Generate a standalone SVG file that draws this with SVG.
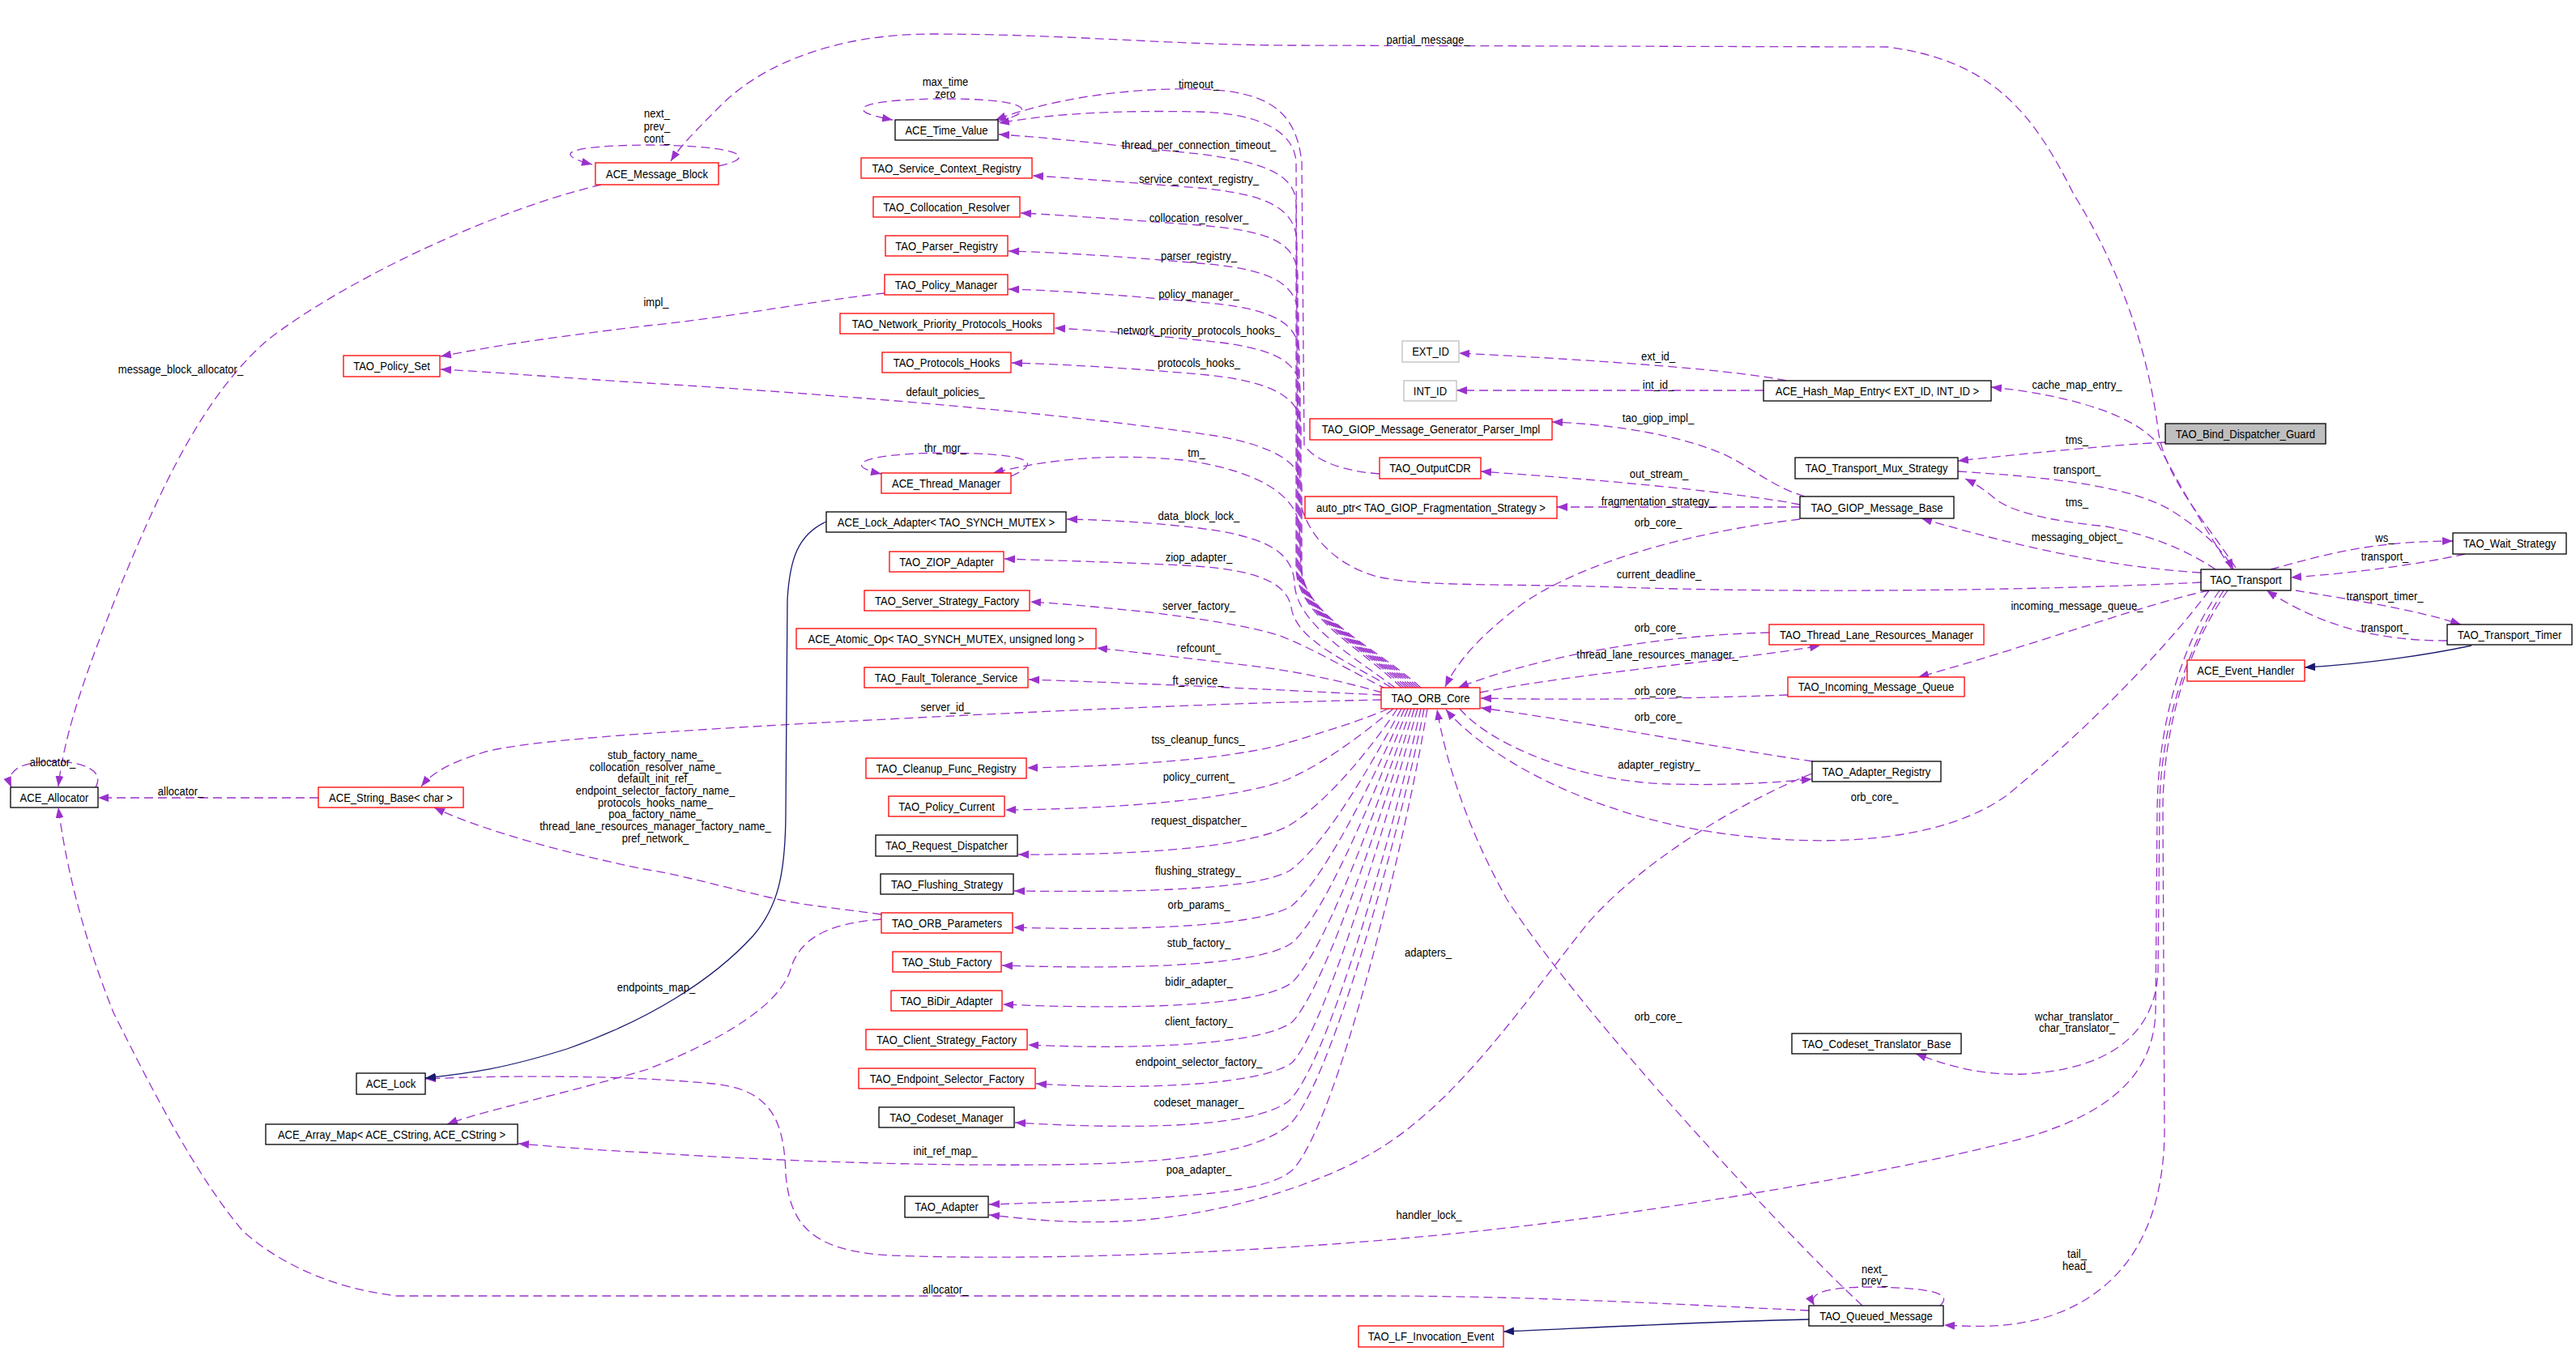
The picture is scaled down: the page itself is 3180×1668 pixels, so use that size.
<svg xmlns="http://www.w3.org/2000/svg" width="3180" height="1668" viewBox="0 0 3180 1668">
<defs>
<style>
.n rect{fill:#fff;stroke-width:1.3}
.r rect{stroke:#ff0000}
.b rect{stroke:#000}
.g rect{stroke:#bfbfbf}
.f rect{fill:#bfbfbf;stroke:#000}
text{font-family:"Liberation Sans",Arial,sans-serif;font-size:15px;fill:#000;text-anchor:middle;transform-box:fill-box;transform-origin:center;transform:scaleX(0.87)}
.u{fill:none;stroke:#9a32cd;stroke-width:1.3;stroke-dasharray:11,6;marker-end:url(#ap)}
.i{fill:none;stroke:#191970;stroke-width:1.3;marker-end:url(#an)}
</style>
<marker id="ap" markerWidth="13" markerHeight="10" refX="13" refY="5" orient="auto" markerUnits="userSpaceOnUse"><path d="M0,0 L13,5 L0,10 z" fill="#9a32cd"/></marker>
<marker id="an" markerWidth="13" markerHeight="10" refX="13" refY="5" orient="auto" markerUnits="userSpaceOnUse"><path d="M0,0 L13,5 L0,10 z" fill="#191970"/></marker>
</defs>
<rect width="3180" height="1668" fill="#fff"/>
<g id="connectors">
<g><path class="u" d="M887 205 C935 195 920 180 800 179 C700 180 680 190 731 203"/><text x="811" y="145">next_</text><text x="811" y="161">prev_</text><text x="811" y="176">cont_</text></g>
<g><path class="u" d="M2760 701 C2720 640 2672 590 2664 530 C2650 420 2610 320 2560 240 C2510 140 2460 75 2330 58 L1600 56 C1450 56 1320 42 1150 42 C1030 42 940 80 890 130 C860 160 840 180 828 199"/><text x="1763" y="54">partial_message_</text></g>
<g><path class="u" d="M1232 150 C1290 135 1260 122 1167 122 C1070 122 1030 135 1102 148"/><text x="1167" y="106">max_time</text><text x="1167" y="121">zero</text></g>
<g><path class="u" d="M1703 585 C1660 582 1625 570 1610 550 L1607 200 C1600 140 1570 112 1480 110 C1380 108 1290 125 1229 148"/><text x="1480" y="109">timeout_</text></g>
<g><path class="u" d="M2717 719 C2500 730 2200 732 2000 725 C1850 720 1760 725 1700 712 C1640 695 1605 650 1602 600 L1600 200 C1598 165 1560 140 1480 138 C1380 136 1300 140 1233 152"/><text x="2048" y="714">current_deadline_</text></g>
<g><path class="u" d="M1730 849 C1680 800 1600 760 1600 700 L1600 250 C1598 215 1560 200 1480 190 C1380 180 1300 170 1233 166"/><text x="1480" y="184">thread_per_connection_timeout_</text></g>
<g><path class="u" d="M1733 849 C1685 800 1601 760 1601 700 L1601 300 C1600 260 1570 240 1480 232 C1400 226 1330 220 1275 217"/><text x="1480" y="226">service_context_registry_</text></g>
<g><path class="u" d="M1736 849 C1688 800 1602 760 1602 700 L1602 340 C1600 300 1570 285 1480 278 C1400 272 1320 266 1260 263"/><text x="1480" y="274">collocation_resolver_</text></g>
<g><path class="u" d="M1739 849 C1690 800 1603 760 1603 700 L1603 390 C1601 350 1570 332 1480 325 C1400 318 1320 312 1245 310"/><text x="1480" y="321">parser_registry_</text></g>
<g><path class="u" d="M1742 849 C1692 800 1604 760 1604 700 L1604 435 C1602 398 1570 380 1480 373 C1400 366 1320 359 1245 357"/><text x="1480" y="368">policy_manager_</text></g>
<g><path class="u" d="M1745 849 C1694 800 1605 760 1605 700 L1605 480 C1603 445 1570 428 1480 420 C1420 414 1360 408 1302 405"/><text x="1480" y="413">network_priority_protocols_hooks_</text></g>
<g><path class="u" d="M1748 849 C1696 800 1606 760 1606 700 L1606 525 C1604 490 1570 470 1480 462 C1400 455 1320 450 1249 448"/><text x="1480" y="453">protocols_hooks_</text></g>
<g><path class="u" d="M1092 362 C1000 372 900 392 800 402 C700 414 620 425 544 440"/><text x="810" y="378">impl_</text></g>
<g><path class="u" d="M742 228 C600 262 420 350 330 420 C250 490 200 600 150 720 C110 820 80 900 72 971"/><text x="223" y="461">message_block_allocator_</text></g>
<g><path class="u" d="M1751 849 C1698 800 1607 760 1607 700 L1607 600 C1605 570 1570 550 1500 538 C1300 508 1000 485 800 473 C700 467 620 460 544 456"/><text x="1167" y="489">default_policies_</text></g>
<g><path class="u" d="M1248 588 C1290 570 1270 560 1167 559 C1060 560 1040 575 1088 585"/><text x="1167" y="558">thr_mgr_</text></g>
<g><path class="u" d="M1754 849 C1700 800 1608 760 1606 700 L1604 650 C1600 610 1550 580 1460 568 C1380 560 1300 565 1226 584"/><text x="1477" y="564">tm_</text></g>
<g><path class="u" d="M1722 849 C1670 810 1600 770 1598 720 C1596 680 1560 662 1480 652 C1420 645 1370 642 1317 641"/><text x="1480" y="642">data_block_lock_</text></g>
<g><path class="u" d="M1718 849 C1660 815 1600 790 1594 750 C1588 715 1540 702 1460 698 C1380 694 1300 692 1240 690"/><text x="1480" y="693">ziop_adapter_</text></g>
<g><path class="u" d="M1712 851 C1670 830 1620 800 1580 785 C1540 772 1480 764 1420 756 C1360 750 1310 745 1272 743"/><text x="1480" y="753">server_factory_</text></g>
<g><path class="u" d="M1706 855 C1670 845 1620 832 1560 824 C1480 814 1400 805 1354 800"/><text x="1480" y="805">refcount_</text></g>
<g><path class="u" d="M1705 858 C1600 853 1450 845 1270 839"/><text x="1479" y="845">ft_service_</text></g>
<g><path class="u" d="M1705 864 C1500 868 1200 882 1000 893 C800 904 650 915 600 928 C560 940 535 952 520 971"/><text x="1167" y="878">server_id_</text></g>
<g><path class="u" d="M1714 875 C1680 890 1630 905 1580 920 C1520 935 1420 945 1268 948"/><text x="1479" y="918">tss_cleanup_funcs_</text></g>
<g><path class="u" d="M1720 875 C1690 900 1640 940 1590 962 C1540 982 1420 998 1241 1000"/><text x="1480" y="964">policy_current_</text></g>
<g><path class="u" d="M1725 875 C1695 920 1640 990 1590 1020 C1540 1045 1420 1056 1257 1055"/><text x="1480" y="1018">request_dispatcher_</text></g>
<g><path class="u" d="M1730 875 C1700 930 1640 1040 1592 1075 C1550 1098 1420 1102 1252 1100"/><text x="1479" y="1080">flushing_strategy_</text></g>
<g><path class="u" d="M1734 875 C1705 940 1640 1080 1595 1118 C1560 1142 1420 1150 1251 1145"/><text x="1480" y="1122">orb_params_</text></g>
<g><path class="u" d="M1738 875 C1708 950 1640 1125 1595 1164 C1560 1190 1420 1198 1237 1192"/><text x="1480" y="1169">stub_factory_</text></g>
<g><path class="u" d="M1742 875 C1712 960 1640 1170 1595 1213 C1560 1240 1420 1248 1238 1240"/><text x="1480" y="1217">bidir_adapter_</text></g>
<g><path class="u" d="M1746 875 C1716 970 1640 1215 1595 1262 C1560 1288 1420 1297 1269 1290"/><text x="1480" y="1266">client_factory_</text></g>
<g><path class="u" d="M1750 875 C1720 980 1640 1265 1595 1312 C1560 1338 1420 1347 1279 1338"/><text x="1480" y="1316">endpoint_selector_factory_</text></g>
<g><path class="u" d="M1754 875 C1726 1000 1640 1318 1590 1360 C1550 1390 1420 1396 1253 1386"/><text x="1480" y="1366">codeset_manager_</text></g>
<g><path class="u" d="M1758 875 C1730 1020 1640 1350 1590 1390 C1550 1422 1460 1436 1300 1438 C1100 1440 900 1430 800 1423 C730 1420 680 1415 640 1412"/><text x="1167" y="1426">init_ref_map_</text></g>
<g><path class="u" d="M1762 875 C1735 1040 1650 1390 1595 1445 C1560 1475 1450 1480 1221 1487"/><text x="1480" y="1449">poa_adapter_</text></g>
<g><path class="u" d="M2237 955 C2150 990 2030 1060 1960 1140 C1880 1240 1800 1360 1700 1420 C1620 1468 1500 1500 1400 1507 C1320 1512 1270 1505 1221 1500"/><text x="1763" y="1181">adapters_</text></g>
<g><path class="u" d="M2222 641 C2100 655 1960 690 1880 745 C1830 782 1800 815 1784 848"/><text x="2047" y="650">orb_core_</text></g>
<g><path class="u" d="M2184 781 C2050 784 1900 810 1800 849"/><text x="2047" y="780">orb_core_</text></g>
<g><path class="u" d="M1827 855 C1950 830 2150 815 2247 797"/><text x="2046" y="813">thread_lane_resources_manager_</text></g>
<g><path class="u" d="M2207 858 C2100 862 1950 865 1828 862"/><text x="2047" y="858">orb_core_</text></g>
<g><path class="u" d="M2238 940 C2100 920 1950 890 1828 874"/><text x="2047" y="890">orb_core_</text></g>
<g><path class="u" d="M1802 875 C1840 920 1950 965 2060 968 C2140 970 2190 966 2237 962"/><text x="2048" y="949">adapter_registry_</text></g>
<g><path class="u" d="M2727 729 C2690 780 2600 880 2480 980 C2400 1040 2250 1050 2100 1025 C1950 1000 1830 930 1785 876"/><text x="2314" y="989">orb_core_</text></g>
<g><path class="u" d="M2299 1612 C2200 1520 1950 1250 1860 1110 C1810 1020 1785 940 1774 876"/><text x="2047" y="1260">orb_core_</text></g>
<g><path class="u" d="M2745 729 C2700 800 2666 900 2666 1000 L2664 1200 C2660 1280 2600 1320 2500 1326 C2450 1328 2410 1318 2365 1301"/><text x="2564" y="1260">wchar_translator_</text><text x="2564" y="1274">char_translator_</text></g>
<g><path class="u" d="M2740 729 C2690 800 2664 900 2663 1000 L2661 1250 C2658 1330 2600 1380 2480 1410 C2300 1455 2000 1505 1743 1528 C1500 1550 1250 1556 1100 1550 C1000 1545 975 1510 970 1450 C968 1380 950 1345 880 1338 C780 1328 640 1327 525 1332"/><text x="1764" y="1505">handler_lock_</text></g>
<g><path class="u" d="M2750 729 C2700 800 2670 900 2670 1000 L2672 1400 C2670 1520 2620 1595 2530 1625 C2480 1640 2440 1638 2400 1636"/><text x="2564" y="1553">tail_</text><text x="2564" y="1568">head_</text></g>
<g><path class="u" d="M2727 729 C2650 745 2500 800 2368 836"/><text x="2564" y="753">incoming_message_queue_</text></g>
<g><path class="u" d="M2717 707 C2600 700 2480 672 2372 640"/><text x="2564" y="668">messaging_object_</text></g>
<g><path class="u" d="M2735 703 C2700 680 2660 662 2600 650 C2520 642 2480 630 2462 615 C2450 605 2440 598 2426 591"/><text x="2564" y="625">tms_</text></g>
<g><path class="u" d="M2417 582 C2530 589 2630 600 2680 630 C2720 655 2745 680 2757 703"/><text x="2564" y="585">transport_</text></g>
<g><path class="u" d="M2755 703 C2720 650 2685 590 2665 550 C2640 515 2560 488 2458 478"/><text x="2564" y="480">cache_map_entry_</text></g>
<g><path class="u" d="M2673 546 C2600 550 2500 560 2417 569"/><text x="2564" y="548">tms_</text></g>
<g><path class="u" d="M2803 703 C2860 688 2920 668 3028 668"/><text x="2944" y="669">ws_</text></g>
<g><path class="u" d="M3043 684 C2980 698 2900 708 2828 713"/><text x="2944" y="692">transport_</text></g>
<g><path class="u" d="M2834 729 C2900 740 2980 752 3038 771"/><text x="2944" y="741">transport_timer_</text></g>
<g><path class="u" d="M3021 791 C2940 791 2870 776 2798 729"/><text x="2944" y="780">transport_</text></g>
<g><path class="u" d="M2222 623 C2150 609 2000 594 1828 582"/><text x="2048" y="590">out_stream_</text></g>
<g><path class="u" d="M2222 626 L1922 626"/><text x="2047" y="624">fragmentation_strategy_</text></g>
<g><path class="u" d="M2228 613 C2185 600 2160 575 2126 560 C2080 540 2000 524 1916 521"/><text x="2047" y="521">tao_giop_impl_</text></g>
<g><path class="u" d="M2205 470 C2150 458 2000 446 1801 436"/><text x="2047" y="445">ext_id_</text></g>
<g><path class="u" d="M2177 482 L1798 482"/><text x="2047" y="480">int_id_</text></g>
<g><path class="u" d="M118 972 C130 950 100 940 65 940 C30 940 5 950 14 972"/><text x="65" y="946">allocator_</text></g>
<g><path class="u" d="M393 985 L121 985"/><text x="223" y="982">allocator_</text></g>
<g><path class="u" d="M1088 1129 C1040 1122 990 1118 950 1108 C880 1092 840 1080 795 1073 C720 1058 600 1028 536 997"/><text x="809" y="937">stub_factory_name_</text><text x="809" y="952">collocation_resolver_name_</text><text x="809" y="966">default_init_ref_</text><text x="809" y="981">endpoint_selector_factory_name_</text><text x="809" y="996">protocols_hooks_name_</text><text x="809" y="1010">poa_factory_name_</text><text x="809" y="1025">thread_lane_resources_manager_factory_name_</text><text x="809" y="1040">pref_network_</text></g>
<g><path class="u" d="M1088 1135 C1020 1140 985 1160 975 1200 C960 1240 900 1280 800 1320 C700 1350 600 1370 552 1388"/><text x="810" y="1224">endpoints_map_</text></g>
<g><path class="u" d="M2233 1618 C2100 1612 1900 1600 1700 1600 L490 1600 C420 1592 350 1565 300 1520 C240 1450 180 1330 140 1250 C100 1150 80 1060 72 997"/><text x="1167" y="1597">allocator_</text></g>
<g><path class="u" d="M2395 1612 C2410 1598 2390 1590 2310 1589 C2260 1589 2230 1595 2240 1612"/><text x="2314" y="1572">next_</text><text x="2314" y="1586">prev_</text></g>
<g><path class="i" d="M1020 644 C985 660 975 690 972 740 L970 1000 C970 1080 960 1120 930 1155 C880 1210 800 1260 700 1295 C620 1320 580 1325 525 1331"/></g>
<g><path class="i" d="M2233 1629 C2100 1632 1950 1640 1856 1644"/></g>
<g><path class="i" d="M3051 797 C3000 808 2920 820 2845 824"/></g>
</g>
<g id="node-ACE_Message_Block" class="n r"><rect x="735" y="201" width="152" height="27"/><text x="811" y="220">ACE_Message_Block</text></g>
<g id="node-TAO_Policy_Set" class="n r"><rect x="424" y="439" width="119" height="26"/><text x="483.5" y="457.5">TAO_Policy_Set</text></g>
<g id="node-ACE_Time_Value" class="n b"><rect x="1105" y="148" width="127" height="25"/><text x="1168.5" y="166">ACE_Time_Value</text></g>
<g id="node-TAO_Service_Context_Registry" class="n r"><rect x="1063" y="195" width="211" height="25"/><text x="1168.5" y="213">TAO_Service_Context_Registry</text></g>
<g id="node-TAO_Collocation_Resolver" class="n r"><rect x="1078" y="243" width="181" height="25"/><text x="1168.5" y="261">TAO_Collocation_Resolver</text></g>
<g id="node-TAO_Parser_Registry" class="n r"><rect x="1093" y="291" width="151" height="25"/><text x="1168.5" y="309">TAO_Parser_Registry</text></g>
<g id="node-TAO_Policy_Manager" class="n r"><rect x="1092" y="339" width="152" height="25"/><text x="1168" y="357">TAO_Policy_Manager</text></g>
<g id="node-TAO_Network_Priority_Protocols_Hooks" class="n r"><rect x="1037" y="387" width="264" height="25"/><text x="1169" y="405">TAO_Network_Priority_Protocols_Hooks</text></g>
<g id="node-TAO_Protocols_Hooks" class="n r"><rect x="1089" y="435" width="159" height="25"/><text x="1168.5" y="453">TAO_Protocols_Hooks</text></g>
<g id="node-ACE_Thread_Manager" class="n r"><rect x="1088" y="584" width="160" height="25"/><text x="1168" y="602">ACE_Thread_Manager</text></g>
<g id="node-ACE_Lock_Adapter" class="n b"><rect x="1020" y="632" width="296" height="25"/><text x="1168" y="650">ACE_Lock_Adapter&lt; TAO_SYNCH_MUTEX &gt;</text></g>
<g id="node-TAO_ZIOP_Adapter" class="n r"><rect x="1098" y="681" width="141" height="25"/><text x="1168.5" y="699">TAO_ZIOP_Adapter</text></g>
<g id="node-TAO_Server_Strategy_Factory" class="n r"><rect x="1067" y="729" width="204" height="25"/><text x="1169" y="747">TAO_Server_Strategy_Factory</text></g>
<g id="node-ACE_Atomic_Op" class="n r"><rect x="983" y="776" width="370" height="25"/><text x="1168" y="794">ACE_Atomic_Op&lt; TAO_SYNCH_MUTEX, unsigned long &gt;</text></g>
<g id="node-TAO_Fault_Tolerance_Service" class="n r"><rect x="1067" y="824" width="202" height="25"/><text x="1168" y="842">TAO_Fault_Tolerance_Service</text></g>
<g id="node-TAO_Cleanup_Func_Registry" class="n r"><rect x="1069" y="936" width="198" height="25"/><text x="1168" y="954">TAO_Cleanup_Func_Registry</text></g>
<g id="node-TAO_Policy_Current" class="n r"><rect x="1097" y="983" width="143" height="25"/><text x="1168.5" y="1001">TAO_Policy_Current</text></g>
<g id="node-TAO_Request_Dispatcher" class="n b"><rect x="1081" y="1031" width="175" height="26"/><text x="1168.5" y="1049.5">TAO_Request_Dispatcher</text></g>
<g id="node-TAO_Flushing_Strategy" class="n b"><rect x="1087" y="1079" width="164" height="25"/><text x="1169" y="1097">TAO_Flushing_Strategy</text></g>
<g id="node-TAO_ORB_Parameters" class="n r"><rect x="1088" y="1127" width="162" height="25"/><text x="1169" y="1145">TAO_ORB_Parameters</text></g>
<g id="node-TAO_Stub_Factory" class="n r"><rect x="1102" y="1175" width="134" height="25"/><text x="1169" y="1193">TAO_Stub_Factory</text></g>
<g id="node-TAO_BiDir_Adapter" class="n r"><rect x="1100" y="1223" width="137" height="25"/><text x="1168.5" y="1241">TAO_BiDir_Adapter</text></g>
<g id="node-TAO_Client_Strategy_Factory" class="n r"><rect x="1069" y="1271" width="199" height="25"/><text x="1168.5" y="1289">TAO_Client_Strategy_Factory</text></g>
<g id="node-TAO_Endpoint_Selector_Factory" class="n r"><rect x="1060" y="1319" width="218" height="25"/><text x="1169" y="1337">TAO_Endpoint_Selector_Factory</text></g>
<g id="node-TAO_Codeset_Manager" class="n b"><rect x="1085" y="1367" width="167" height="25"/><text x="1168.5" y="1385">TAO_Codeset_Manager</text></g>
<g id="node-TAO_Adapter" class="n b"><rect x="1117" y="1477" width="103" height="26"/><text x="1168.5" y="1495.5">TAO_Adapter</text></g>
<g id="node-ACE_Allocator" class="n b"><rect x="13" y="972" width="108" height="25"/><text x="67" y="990">ACE_Allocator</text></g>
<g id="node-ACE_String_Base" class="n r"><rect x="393" y="972" width="179" height="25"/><text x="482.5" y="990">ACE_String_Base&lt; char &gt;</text></g>
<g id="node-ACE_Lock" class="n b"><rect x="440" y="1325" width="85" height="26"/><text x="482.5" y="1343.5">ACE_Lock</text></g>
<g id="node-ACE_Array_Map" class="n b"><rect x="328" y="1388" width="311" height="25"/><text x="483.5" y="1406">ACE_Array_Map&lt; ACE_CString, ACE_CString &gt;</text></g>
<g id="node-EXT_ID" class="n g"><rect x="1731" y="421" width="70" height="26"/><text x="1766" y="439.5">EXT_ID</text></g>
<g id="node-INT_ID" class="n g"><rect x="1733" y="470" width="65" height="25"/><text x="1765.5" y="488">INT_ID</text></g>
<g id="node-ACE_Hash_Map_Entry" class="n b"><rect x="2177" y="470" width="281" height="25"/><text x="2317.5" y="488">ACE_Hash_Map_Entry&lt; EXT_ID, INT_ID &gt;</text></g>
<g id="node-TAO_GIOP_Message_Generator_Parser_Impl" class="n r"><rect x="1617" y="517" width="299" height="26"/><text x="1766.5" y="535.5">TAO_GIOP_Message_Generator_Parser_Impl</text></g>
<g id="node-TAO_Bind_Dispatcher_Guard" class="n f"><rect x="2673" y="523" width="198" height="25"/><text x="2772" y="541">TAO_Bind_Dispatcher_Guard</text></g>
<g id="node-TAO_OutputCDR" class="n r"><rect x="1703" y="565" width="125" height="26"/><text x="1765.5" y="583.5">TAO_OutputCDR</text></g>
<g id="node-auto_ptr" class="n r"><rect x="1611" y="613" width="311" height="27"/><text x="1766.5" y="632">auto_ptr&lt; TAO_GIOP_Fragmentation_Strategy &gt;</text></g>
<g id="node-TAO_Transport_Mux_Strategy" class="n b"><rect x="2216" y="565" width="201" height="26"/><text x="2316.5" y="583.5">TAO_Transport_Mux_Strategy</text></g>
<g id="node-TAO_GIOP_Message_Base" class="n b"><rect x="2222" y="613" width="190" height="27"/><text x="2317" y="632">TAO_GIOP_Message_Base</text></g>
<g id="node-TAO_ORB_Core" class="n r"><rect x="1705" y="849" width="122" height="26"/><text x="1766" y="867.5">TAO_ORB_Core</text></g>
<g id="node-TAO_Thread_Lane_Resources_Manager" class="n r"><rect x="2184" y="771" width="265" height="25"/><text x="2316.5" y="789">TAO_Thread_Lane_Resources_Manager</text></g>
<g id="node-TAO_Incoming_Message_Queue" class="n r"><rect x="2207" y="836" width="218" height="24"/><text x="2316" y="853.5">TAO_Incoming_Message_Queue</text></g>
<g id="node-TAO_Adapter_Registry" class="n b"><rect x="2237" y="940" width="159" height="25"/><text x="2316.5" y="958">TAO_Adapter_Registry</text></g>
<g id="node-TAO_Transport" class="n b"><rect x="2717" y="703" width="111" height="26"/><text x="2772.5" y="721.5">TAO_Transport</text></g>
<g id="node-TAO_Wait_Strategy" class="n b"><rect x="3028" y="658" width="140" height="26"/><text x="3098" y="676.5">TAO_Wait_Strategy</text></g>
<g id="node-TAO_Transport_Timer" class="n b"><rect x="3021" y="771" width="154" height="25"/><text x="3098" y="789">TAO_Transport_Timer</text></g>
<g id="node-ACE_Event_Handler" class="n r"><rect x="2700" y="815" width="145" height="26"/><text x="2772.5" y="833.5">ACE_Event_Handler</text></g>
<g id="node-TAO_Codeset_Translator_Base" class="n b"><rect x="2212" y="1276" width="209" height="25"/><text x="2316.5" y="1294">TAO_Codeset_Translator_Base</text></g>
<g id="node-TAO_Queued_Message" class="n b"><rect x="2233" y="1612" width="166" height="25"/><text x="2316" y="1630">TAO_Queued_Message</text></g>
<g id="node-TAO_LF_Invocation_Event" class="n r"><rect x="1677" y="1637" width="179" height="26"/><text x="1766.5" y="1655.5">TAO_LF_Invocation_Event</text></g>
</svg>
